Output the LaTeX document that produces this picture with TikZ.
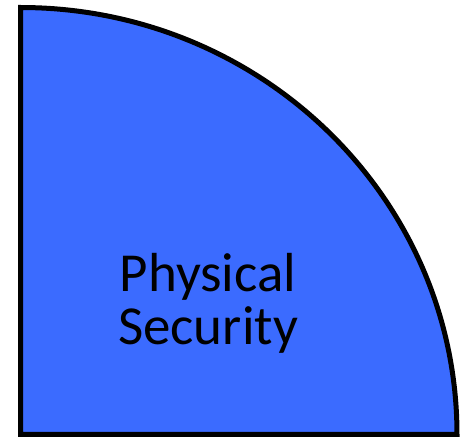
\documentclass[tikz,border=0pt]{standalone}
\usepackage{fontspec}
\setmainfont{Carlito}
\definecolor{qblue}{RGB}{59,107,255}
\begin{document}
\begin{tikzpicture}[x=1pt,y=1pt,
  quarter/.style={fill=qblue,draw=black,line width=5pt,line join=miter},
  label/.style={align=center,font=\fontsize{55}{53}\selectfont,inner sep=0pt}]
\useasboundingbox (0,0) rectangle (464,437);
\draw[quarter] (20.5,2.5) -- (20.5,429.5) arc[start angle=90,end angle=0,x radius=436.5,y radius=427] -- cycle;
\node[label] (txt) at (208,134) {Physical\\Security};
\end{tikzpicture}
\end{document}
